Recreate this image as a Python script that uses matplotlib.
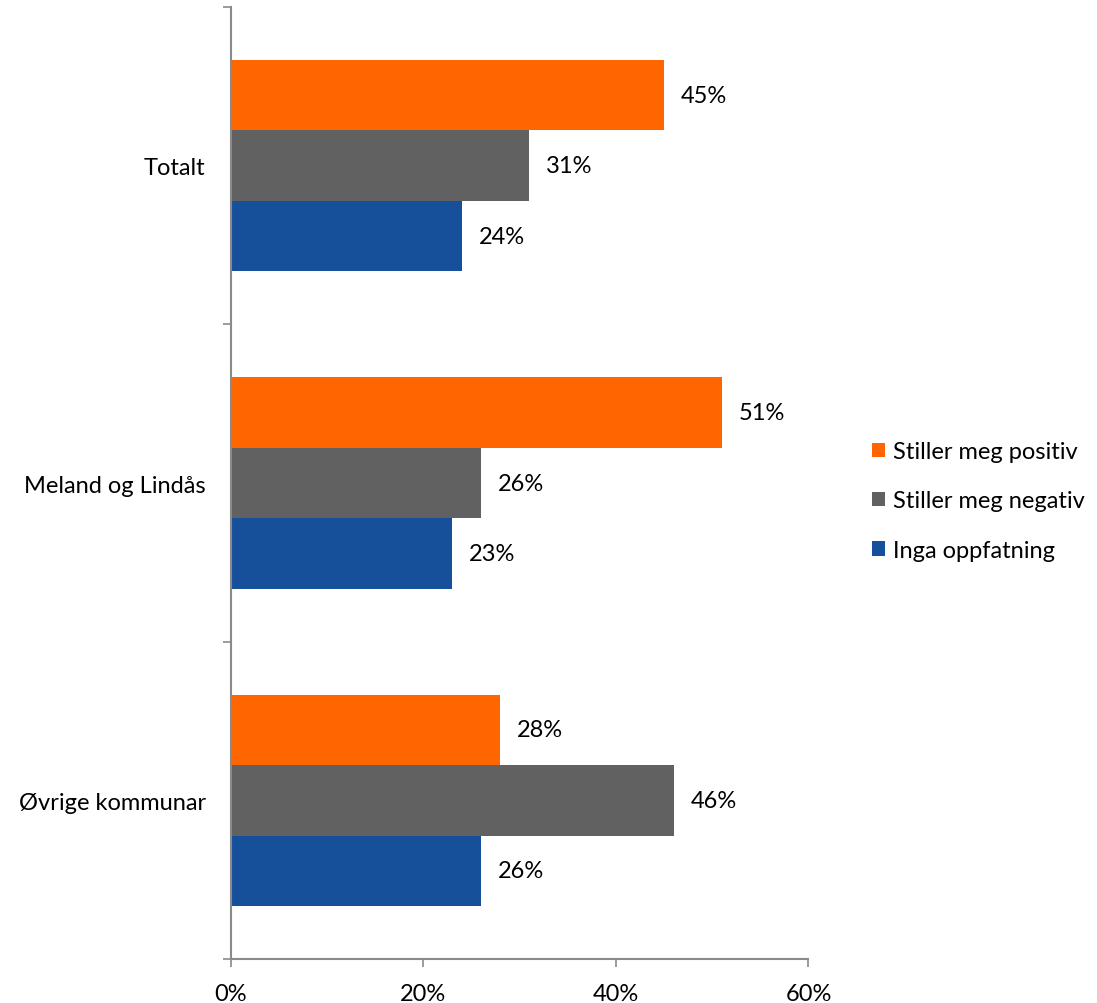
import numpy as np
import matplotlib.pyplot as plt
from matplotlib.patches import Patch

# Data
CATEGORIES = ["Totalt", "Meland og Lindås", "Øvrige kommunar"]
SERIES = ["Stiller meg positiv", "Stiller meg negativ", "Inga oppfatning"]
POSITIV = [45, 51, 28]
NEGATIV = [31, 26, 46]
INGA = [24, 23, 26]
X_TICKS = [0, 20, 40, 60]

COLORS = ["#FF6600", "#616161", "#17509A"]
AXIS_GREY = "#8A8A8A"
FS = 17

plt.rcParams["font.family"] = ["Lato", "DejaVu Sans"]
plt.rcParams["font.size"] = FS

fig = plt.figure(figsize=(10.97, 10.04), dpi=100)
ax = fig.add_axes([0.2103, 0.0438, 0.7370 - 0.2103, 0.992 - 0.0438])

y = np.arange(len(CATEGORIES), dtype=float)
h = 2.0 / 9.0
offsets = [-h, 0.0, h]

for values, color, off, name in zip([POSITIV, NEGATIV, INGA], COLORS, offsets, SERIES):
    ax.barh(y + off, values, height=h, color=color, label=name, zorder=2)
    for yy, v in zip(y + off, values):
        ax.annotate(f"{v}%", xy=(v, yy), xytext=(12, 0), textcoords="offset points",
                    ha="left", va="center", fontsize=FS, color="black")

ax.set_xlim(0, 60)
ax.set_ylim(2.5, -0.5)

ax.set_xticks(X_TICKS)
ax.set_xticklabels([f"{t}%" for t in X_TICKS])
ax.set_yticks([-0.5, 0.5, 1.5, 2.5])
ax.set_yticklabels([])
ax.set_yticks(y, minor=True)
ax.set_yticklabels(CATEGORIES, minor=True)

ax.tick_params(axis="both", which="major", direction="out", length=6,
               width=1.2, color=AXIS_GREY)
ax.tick_params(axis="x", pad=11)
ax.tick_params(axis="y", which="minor", length=0, pad=18)

for side in ["top", "right"]:
    ax.spines[side].set_visible(False)
for side in ["left", "bottom"]:
    ax.spines[side].set_color(AXIS_GREY)
    ax.spines[side].set_linewidth(1.5)

handles = [Patch(facecolor=c, edgecolor="none") for c in COLORS]
fig.legend(handles, SERIES, loc="center left", bbox_to_anchor=(0.795, 0.5),
           frameon=False, borderpad=0, borderaxespad=0, handlelength=0.55,
           handleheight=0.55, handletextpad=0.35, labelspacing=1.2, fontsize=FS)

fig.savefig("out.png", dpi=100)
